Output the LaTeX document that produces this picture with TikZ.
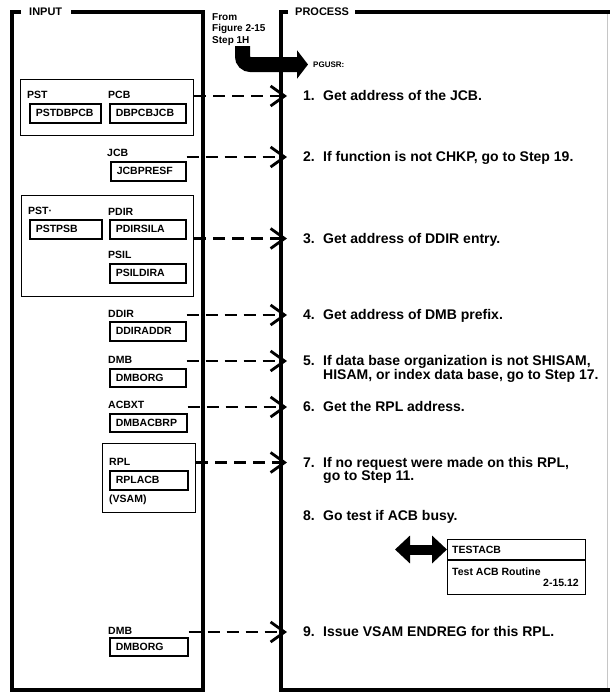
\documentclass[tikz,border=0pt]{standalone}
\usepackage{fontspec}
\setmainfont{Liberation Sans}
\usetikzlibrary{arrows.meta,calc}
\begin{document}
\begin{tikzpicture}[x=1pt,y=-1pt,
  frame/.style={line width=4pt, line join=miter},
  hdr/.style={font=\fontsize{11}{13}\selectfont\bfseries, inner sep=0pt, anchor=west},
  grp/.style={draw, line width=1.1pt, inner sep=0pt, anchor=north west},
  fld/.style={draw, line width=1.6pt, inner xsep=6pt, inner ysep=0pt, align=left,
    anchor=north west, font=\fontsize{10.5}{12}\selectfont\bfseries, minimum height=19pt},
  lbl/.style={font=\fontsize{10.5}{12}\selectfont\bfseries, inner sep=0pt, anchor=west},
  num/.style={font=\fontsize{14}{13.3}\selectfont\bfseries, inner sep=0pt, anchor=west},
  stp/.style={font=\fontsize{14}{13.3}\selectfont\bfseries, inner sep=0pt, anchor=base west, align=left},
  flow/.style={line width=2.8pt, dash pattern=on 12pt off 7pt,
    -{Straight Barb[length=14pt,width=20pt]}},
]
\useasboundingbox (0,0) rectangle (610,699);

% ---------- INPUT column ----------
\node[hdr] (inhdr) at (29,12) {INPUT};
\draw[frame] ([xshift=-8pt]inhdr.west) -- (12,12) -- (12,690) -- (203,690) -- (203,12)
  -- ([xshift=9pt]inhdr.east);

% PST / PCB group
\node[grp, minimum width=173pt, minimum height=56pt] (g1) at (20,79) {};
\node[lbl] (pstlab) at (27,95) {PST};
\node[lbl] (pcblab) at (108,95) {PCB};
\node[fld, text width=59pt] (pstdbpcb) at (29,103) {PSTDBPCB};
\node[fld, text width=64pt] (dbpcbjcb) at (109,103) {DBPCBJCB};

% JCB
\node[lbl] (jcblab) at (107,153) {JCB};
\node[fld, text width=63pt] (jcbpresf) at (110,161) {JCBPRESF};

% PST / PDIR / PSIL group
\node[grp, minimum width=172pt, minimum height=101pt] (g2) at (21,195) {};
\node[lbl] (pst2lab) at (28,211) {PST·};
\node[lbl] (pdirlab) at (108,212) {PDIR};
\node[fld, text width=60pt] (pstpsb) at (29,219) {PSTPSB};
\node[fld, text width=64pt] (pdirsila) at (109,219) {PDIRSILA};
\node[lbl] (psillab) at (108,255) {PSIL};
\node[fld, text width=64pt] (psildira) at (109,263) {PSILDIRA};

% DDIR, DMB, ACBXT
\node[lbl] (ddirlab) at (108,314) {DDIR};
\node[fld, text width=64pt] (ddiraddr) at (109,321) {DDIRADDR};
\node[lbl] (dmblab) at (108,360) {DMB};
\node[fld, text width=64pt, minimum height=18pt] (dmborg) at (109,368) {DMBORG};
\node[lbl] (acbxtlab) at (108,405) {ACBXT};
\node[fld, text width=65pt, minimum height=18pt] (dmbacbrp) at (109,413) {DMBACBRP};

% RPL group
\node[grp, minimum width=93pt, minimum height=69pt] (g3) at (102,443) {};
\node[lbl] (rpllab) at (109,462) {RPL};
\node[fld, text width=66pt] (rplacb) at (109,470) {RPLACB};
\node[lbl] (vsamlab) at (109,500) {(VSAM)};

% DMB (second)
\node[lbl] (dmb2lab) at (108,631) {DMB};
\node[fld, text width=66pt, minimum height=18pt] (dmborg2) at (109,637) {DMBORG};

% ---------- PROCESS column ----------
\node[hdr] (prochdr) at (295,12) {PROCESS};
\draw[frame] ([xshift=-7pt]prochdr.west) -- (281,12) -- (281,690) -- (612,690);
\draw[line width=3.5pt] ([xshift=6pt]prochdr.east) -- (612,12);
\draw[gray!45, line width=0.8pt] (607.5,14) -- (607.5,688);

% entry from the previous figure
\node[font=\fontsize{10}{11.5}\selectfont\bfseries, align=left, anchor=north west,
  inner sep=0pt] (from) at (212,13) {From\\Figure 2-15\\Step 1H};
\node[font=\fontsize{8}{10}\selectfont\bfseries, inner sep=0pt, anchor=west]
  (pgusr) at (313,64.5) {PGUSR:};
\coordinate (fstart) at (242.5,46);
\draw[line width=15pt, -{Triangle[length=11pt,width=28pt]}]
  (fstart) -- (242.5,56.5) .. controls (242.5,61) and (246,64.5) .. (250.5,64.5)
  -- ([xshift=-5pt]pgusr.west);

% steps
\node[num] (s1) at (303,96)    {1.};
\node[num] (s2) at (303,157)   {2.};
\node[num] (s3) at (303,238.5) {3.};
\node[num] (s4) at (303,315)   {4.};
\node[num] (s5) at (303,361)   {5.};
\node[num] (s6) at (303,407)   {6.};
\node[num] (s7) at (303,462.5) {7.};
\node[num] (s8) at (303,516)   {8.};
\node[num] (s9) at (303,632)   {9.};

\node[stp] (t1) at ([xshift=20pt]s1.base west) {Get address of the JCB.};
\node[stp] (t2) at ([xshift=20pt]s2.base west) {If function is not CHKP, go to Step 19.};
\node[stp] (t3) at ([xshift=20pt]s3.base west) {Get address of DDIR entry.};
\node[stp] (t4) at ([xshift=20pt]s4.base west) {Get address of DMB prefix.};
% two-line steps: the base anchor sits on the last line
\node[stp] (t5) at ([xshift=20pt,yshift=-13.3pt]s5.base west) {If data base organization is not SHISAM,\\HISAM, or index data base, go to Step 17.};
\node[stp] (t6) at ([xshift=20pt]s6.base west) {Get the RPL address.};
\node[stp] (t7) at ([xshift=20pt,yshift=-13.3pt]s7.base west) {If no request were made on this RPL,\\go to Step 11.};
\node[stp] (t8) at ([xshift=20pt]s8.base west) {Go test if ACB busy.};
\node[stp] (t9) at ([xshift=20pt]s9.base west) {Issue VSAM ENDREG for this RPL.};

% data flow from the input fields to the steps
\draw[flow] (g1.east |- s1.west)       -- ([xshift=-16pt]s1.west);
\draw[flow] (jcbpresf.east |- s2.west) -- ([xshift=-16pt]s2.west);
\draw[flow] (g2.east |- s3.west)       -- ([xshift=-16pt]s3.west);
\draw[flow] (ddiraddr.east |- s4.west) -- ([xshift=-16pt]s4.west);
\draw[flow] (dmborg.east |- s5.west)   -- ([xshift=-16pt]s5.west);
\draw[flow] (dmbacbrp.east |- s6.west) -- ([xshift=-16pt]s6.west);
\draw[flow] (g3.east |- s7.west)       -- ([xshift=-16pt]s7.west);
\draw[flow] (dmborg2.east |- s9.west)  -- ([xshift=-16pt]s9.west);

% called routine
\node[draw, line width=1.4pt, minimum width=138pt, minimum height=55pt, inner sep=0pt,
  anchor=north west] (tab) at (447,539) {};
\draw[line width=1.2pt] ([yshift=-21pt]tab.north west) -- ([yshift=-21pt]tab.north east);
\node[font=\fontsize{10.5}{12}\selectfont\bfseries, inner sep=0pt, anchor=west]
  (tabname) at ([xshift=5pt,yshift=-10.5pt]tab.north west) {TESTACB};
\node[font=\fontsize{10.5}{12}\selectfont\bfseries, inner sep=0pt, anchor=base west]
  (tabdesc) at (452,575) {Test ACB Routine};
\node[font=\fontsize{10.5}{12}\selectfont\bfseries, inner sep=0pt, anchor=base east]
  (tabref) at (579,586) {2-15.12};
\coordinate (dl) at (395,549.5);
\draw[line width=10pt, {Triangle[length=15pt,width=27pt]}-{Triangle[length=15pt,width=27pt]}]
  (dl) -- ([yshift=-10.5pt]tab.north west);
\end{tikzpicture}
\end{document}
